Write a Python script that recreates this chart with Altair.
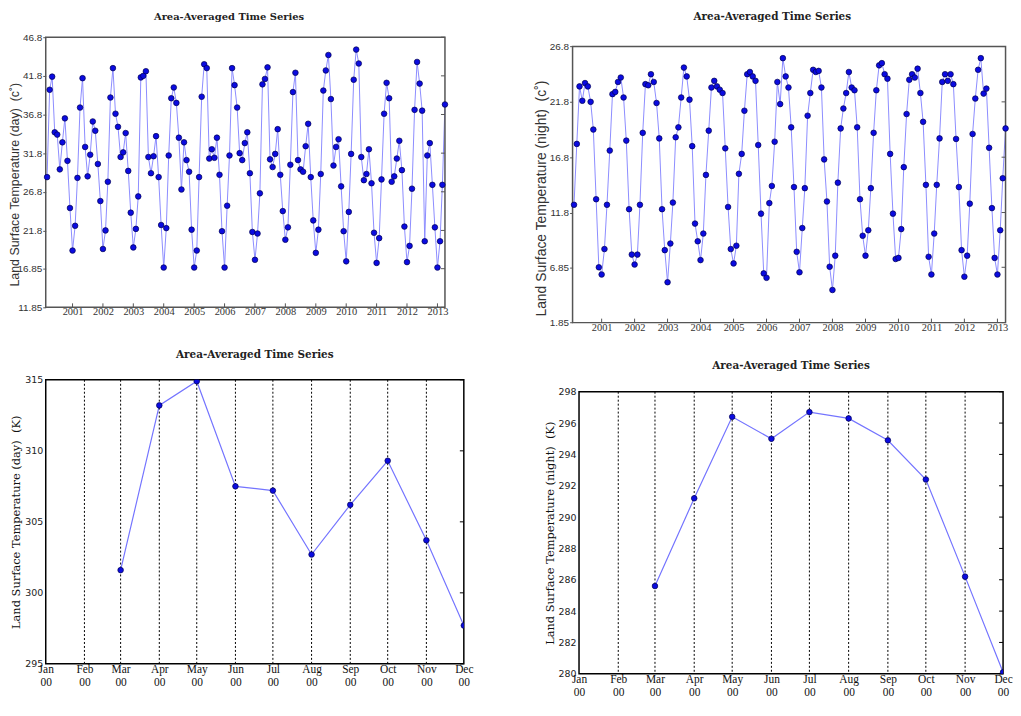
import altair as alt
import pandas as pd

# ---------------- data ----------------
# monthly samples, Mar 2000 .. Apr 2013 (158 months)
months = pd.date_range("2000-03-01", periods=158, freq="MS").strftime("%Y-%m-%dT00:00:00").tolist()

day_c = [
    28.7, 40.0, 41.7, 34.5, 34.2, 29.7, 33.2, 36.3, 30.8, 24.7,
    19.2, 22.4, 28.6, 37.7, 41.5, 32.6, 28.8, 31.6, 35.9, 34.7, 30.4, 25.6,
    19.4, 21.8, 28.1, 39.0, 42.8, 36.9, 35.2, 31.3, 31.9, 34.4, 29.5, 24.1,
    19.6, 22.0, 26.2, 41.6, 41.8, 42.4, 31.3, 29.2, 31.4, 34.0, 28.7, 22.5,
    17.0, 22.1, 31.5, 38.9, 40.3, 38.3, 33.8, 27.1, 33.2, 30.9, 29.4, 21.9,
    17.0, 19.2, 28.7, 39.1, 43.3, 42.8, 31.1, 32.3, 31.2, 33.8, 29.0, 21.7,
    17.0, 25.0, 31.5, 42.8, 40.6, 37.7, 31.8, 30.9, 33.1, 34.5, 29.2, 21.6,
    18.0, 21.4, 26.6, 40.7, 41.4, 42.9, 31.0, 30.0, 31.7, 34.9, 29.0, 24.3,
    20.6, 22.2, 30.3, 39.7, 42.2, 30.9, 29.7, 29.4, 32.7, 35.6, 28.7, 23.1,
    18.9, 21.9, 29.1, 39.9, 42.5, 44.5, 38.8, 30.2, 32.6, 33.6, 27.5, 21.7,
    17.8, 24.2, 31.7, 41.3, 45.2, 43.4, 31.3, 28.3, 29.1, 32.3, 27.9, 21.5,
    17.6, 20.8, 28.4, 36.9, 40.9, 38.9, 28.1, 28.8, 31.1, 33.4, 29.6, 22.3,
    17.7, 19.8, 27.2, 37.4, 43.6, 40.8, 37.3, 20.4, 31.5, 33.1, 27.7, 22.2,
    17.0, 20.4, 27.7, 38.1,
]

night_c = [
    12.5, 18.0, 23.2, 21.9, 23.5, 23.2, 21.8, 19.3, 13.0, 6.85,
    6.2, 8.5, 12.5, 17.4, 22.5, 22.7, 23.6, 24.0, 22.2, 18.3, 12.1, 8.0,
    7.1, 8.0, 12.5, 19.0, 23.4, 23.3, 24.3, 23.6, 21.7, 18.5, 12.1, 8.4,
    5.5, 9.0, 12.7, 18.6, 19.5, 22.2, 24.9, 24.1, 22.0, 17.8, 10.8, 9.2,
    7.5, 9.9, 15.2, 19.2, 23.1, 23.7, 23.2, 22.9, 22.6, 17.6, 12.3, 8.5,
    7.2, 8.8, 15.3, 17.1, 21.0, 24.3, 24.5, 24.1, 23.7, 17.9, 11.7, 6.3,
    5.9, 12.65, 14.2, 18.2, 23.6, 21.6, 25.75, 24.1, 23.1, 19.5, 14.1, 8.25,
    6.4, 10.4, 14.0, 20.55, 22.6, 24.7, 24.5, 24.6, 23.1, 16.6, 12.8, 6.9,
    4.8, 7.9, 14.5, 19.4, 21.2, 22.6, 24.5, 23.1, 22.85, 19.5, 13.0, 9.7,
    7.9, 10.2, 14.0, 19.0, 22.85, 25.1, 25.3, 24.3, 23.9, 17.1, 11.7, 7.6,
    7.7, 10.3, 15.9, 20.7, 23.8, 24.3, 24.0, 24.8, 22.6, 20.0, 14.3, 7.8,
    6.2, 9.9, 14.3, 18.5, 23.6, 24.3, 23.7, 24.3, 23.4, 18.45, 14.1, 8.4,
    6.0, 7.9, 12.6, 18.9, 22.1, 24.7, 25.75, 22.55, 23.0, 17.65, 12.2, 7.7,
    6.2, 10.2, 14.9, 19.4,
]

clim_months = ["2000-03-01T00:00:00", "2000-04-01T00:00:00", "2000-05-01T00:00:00",
               "2000-06-01T00:00:00", "2000-07-01T00:00:00", "2000-08-01T00:00:00",
               "2000-09-01T00:00:00", "2000-10-01T00:00:00", "2000-11-01T00:00:00",
               "2000-12-01T00:00:00"]
day_k = [301.6, 313.2, 314.9, 307.5, 307.2, 302.7, 306.2, 309.3, 303.7, 297.7]
night_k = [285.6, 291.2, 296.4, 295.0, 296.7, 296.3, 294.9, 292.4, 286.2, 280.1]

tick_years = list(range(2001, 2014))
grid_months = [f"2000-{m:02d}-01T00:00:00" for m in range(2, 12)]
tl_yticks = [11.85, 16.85, 21.8, 26.8, 31.8, 36.8, 41.8, 46.8]
tr_yticks = [1.85, 6.85, 11.8, 16.8, 21.8, 26.8]
bl_yticks = [295, 300, 305, 310, 315]
br_yticks = [280, 282, 284, 286, 288, 290, 292, 294, 296, 298]

TITLE = "Area-Averaged Time Series"
NB = "\u00a0"

TS_START = alt.DateTime(year=2000, month=2, date=14)
TS_END = alt.DateTime(year=2013, month=4, date=1)
CL_START = alt.DateTime(year=2000, month=1, date=1)
CL_END = alt.DateTime(year=2000, month=12, date=1)


def frame_layer(x0, x1, y0, y1, color):
    one = pd.DataFrame({"k": [0]})
    return alt.Chart(one).mark_rect(fill="transparent", stroke=color, strokeWidth=1.5).encode(
        x=alt.XDatum(x0, type="temporal"), x2=alt.X2Datum(x1),
        y=alt.YDatum(y1, type="quantitative"), y2=alt.Y2Datum(y0))


def ts_panel(vals, yticks, ytitle, w, h_data, top, t_off, t_size, ttl_x, ttl_y, ttl_size, lab_pad):
    h = h_data + top
    df = pd.DataFrame({"date": months, "v": vals})
    xs = alt.Scale(domain=[TS_START, TS_END], nice=False)
    ys = alt.Scale(domain=[yticks[0], yticks[-1]], nice=False, zero=False, range=[h, top])
    xax = alt.Axis(values=[alt.DateTime(year=y, month=1, date=1) for y in tick_years],
                   tickCount=len(tick_years) + 2,
                   format="%Y", title=None, grid=False, domain=False, ticks=False,
                   labelFont="Liberation Serif", labelFontSize=10.5, labelColor="#333",
                   labelPadding=lab_pad, labelFlush=False, labelOverlap=False)
    yax = alt.Axis(values=yticks, tickCount=len(yticks) + 2,
                   labelExpr="'' + datum.value", title=ytitle,
                   grid=False, domain=False, tickSize=3, tickColor="#555",
                   labelFont="Liberation Sans", labelFontSize=10, labelColor="#333",
                   labelPadding=1, labelOverlap=False,
                   titleFont="Liberation Sans", titleFontSize=ttl_size,
                   titleFontWeight="normal", titleColor="#333", titleX=ttl_x, titleY=ttl_y,
                   titleBaseline="middle")
    base = alt.Chart(df)
    line = base.mark_line(color="#8c8cff", strokeWidth=1).encode(
        x=alt.X("date:T", scale=xs, axis=xax), y=alt.Y("v:Q", scale=ys, axis=yax))
    pts = base.mark_point(filled=True, fill="#0b0be0", stroke="#000050", strokeWidth=0.7,
                          size=32, opacity=1).encode(x="date:T", y="v:Q")
    yr_df = pd.DataFrame({"date": [f"{y}-01-01T00:00:00" for y in tick_years]})
    xt = alt.Chart(yr_df).mark_rule(color="#555", strokeWidth=1).encode(
        x="date:T", y=alt.value(h), y2=alt.value(h - 4))
    yt = alt.Chart(pd.DataFrame({"v": yticks})).mark_rule(color="#555", strokeWidth=1).encode(
        y="v:Q", x=alt.value(w - 4), x2=alt.value(w))
    fr = frame_layer(TS_START, TS_END, yticks[0], yticks[-1], "#555")
    return alt.layer(line, xt, yt, fr, pts).properties(
        width=w, height=h,
        title=alt.TitleParams(TITLE, font="DejaVu Serif", fontSize=t_size, fontWeight="bold",
                              color="#222", offset=t_off, frame="bounds", anchor="middle"),
        view=alt.ViewBackground(stroke="transparent"),
    )


def clim_panel(vals, yticks, ytitle, w, h_data, top, t_off, ttl_x, ttl_y):
    h = h_data + top
    df = pd.DataFrame({"date": clim_months, "v": vals})
    xs = alt.Scale(domain=[CL_START, CL_END], nice=False)
    ys = alt.Scale(domain=[yticks[0], yticks[-1]], nice=False, zero=False, range=[h, top])
    xax = alt.Axis(values=[alt.DateTime(year=2000, month=m, date=1) for m in range(1, 13)],
                   tickCount=14,
                   labelExpr="[timeFormat(datum.value, '%b'), timeFormat(datum.value, '%y')]",
                   title=None, grid=False, domain=False, ticks=False,
                   labelFont="Liberation Serif", labelFontSize=11.5, labelColor="#111",
                   labelPadding=0, labelLineHeight=13, labelFlush=False, labelOverlap=False)
    yax = alt.Axis(values=yticks, tickCount=len(yticks) + 2,
                   title=ytitle, grid=False, domain=False, ticks=False,
                   labelFont="DejaVu Sans", labelFontSize=9.5, labelColor="#222",
                   labelPadding=3, labelOverlap=False,
                   titleFont="DejaVu Serif", titleFontSize=11.5,
                   titleFontWeight="normal", titleColor="#111", titleX=ttl_x, titleY=ttl_y,
                   titleBaseline="middle")
    base = alt.Chart(df)
    line = base.mark_line(color="#7474ff", strokeWidth=1.2, clip=True).encode(
        x=alt.X("date:T", scale=xs, axis=xax), y=alt.Y("v:Q", scale=ys, axis=yax))
    pts = base.mark_point(filled=True, fill="#0b0be0", stroke="#000050", strokeWidth=0.7,
                          size=32, opacity=1, clip=True).encode(x="date:T", y="v:Q")
    grid = alt.Chart(pd.DataFrame({"date": grid_months})).mark_rule(
        color="black", strokeWidth=1, strokeDash=[2, 2]).encode(
        x="date:T", y=alt.YDatum(yticks[-1], type="quantitative"), y2=alt.Y2Datum(yticks[0]))
    yt = alt.Chart(pd.DataFrame({"v": yticks})).mark_rule(color="black", strokeWidth=1).encode(
        y="v:Q", x=alt.value(w - 4), x2=alt.value(w))
    fr = frame_layer(CL_START, CL_END, yticks[0], yticks[-1], "black")
    return alt.layer(line, grid, yt, fr, pts).properties(
        width=w, height=h,
        title=alt.TitleParams(TITLE, font="DejaVu Serif", fontSize=10.5, fontWeight="bold",
                              color="#222", offset=t_off, frame="group", anchor="middle"),
        view=alt.ViewBackground(stroke="transparent"),
    )


tl = ts_panel(day_c, tl_yticks, f"Land Surface Temperature (day){NB} (c˚)",
              402, 272, 0, 10.8, 10, -31, 148, 12.5, -1)
tr = ts_panel(night_c, tr_yticks, f"Land Surface Temperature (night){NB} (c˚)",
              436, 278, 9.4, 15, 10.5, -31, 162, 14, 0)
bl = clim_panel(day_k, bl_yticks, f"Land Surface Temperature (day){NB} (K)",
                421, 286, 0, 14.5, -29, 143)
br = clim_panel(night_k, br_yticks, f"Land Surface Temperature (night){NB} (K)",
                427, 284, 12, 8, -29, 154)

row1 = alt.hconcat(tl, tr, spacing=84.5)
row2 = alt.hconcat(bl, br, spacing=70)

chart = alt.vconcat(row1, row2, spacing=15).properties(padding=0).configure(background="white")

chart.save("out.html", embed_options={"renderer": "svg", "actions": False})
